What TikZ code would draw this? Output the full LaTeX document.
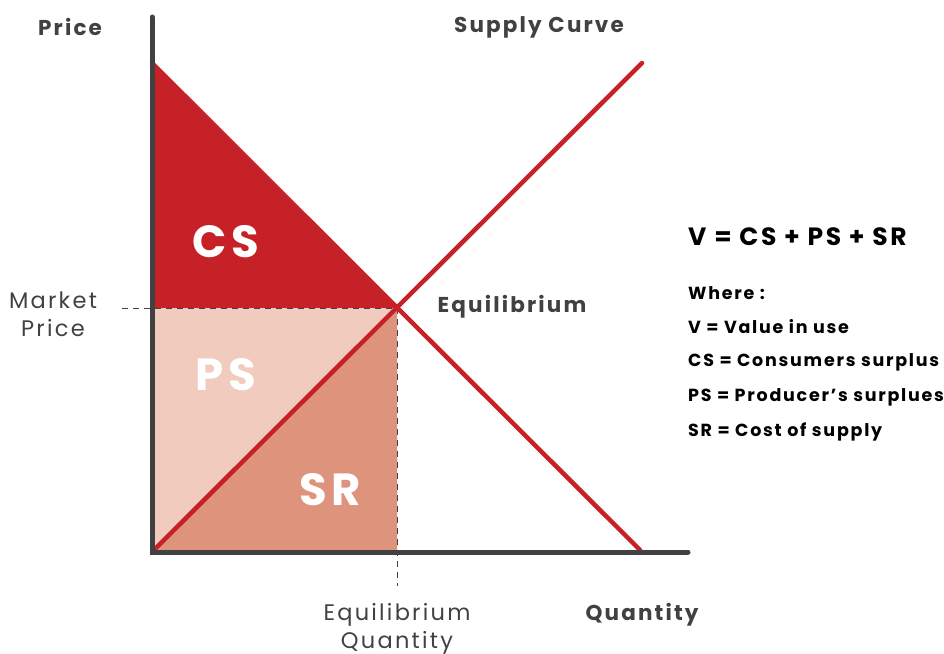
\documentclass[tikz,border=0pt]{standalone}
\usepackage{fontspec}
\setmainfont{Poppins}[LetterSpace=10]
\definecolor{axisgray}{HTML}{414143}
\definecolor{csred}{HTML}{C62127}
\definecolor{pspink}{HTML}{F0CBBE}
\definecolor{srsalmon}{HTML}{DE937D}
\definecolor{txtgray}{HTML}{414143}
\begin{document}
\begin{tikzpicture}[x=1pt,y=-1pt,
  axisline/.style={line width=5pt,draw=axisgray,line cap=round},
  curve/.style={line width=4.5pt,draw=csred,line cap=round},
  guide/.style={line width=1pt,draw=axisgray,dash pattern=on 6pt off 5pt},
  lbl/.style={text=txtgray,font=\bfseries\fontsize{21.5}{24}\selectfont,inner sep=0pt},
  thin/.style={text=txtgray,font=\fontsize{22.5}{28}\selectfont,align=center,inner sep=0pt},
  big/.style={text=white,font=\bfseries\fontsize{45}{48}\selectfont,inner sep=0pt},
  legend/.style={text=black,font=\bfseries\fontsize{17.5}{20}\selectfont,anchor=west,inner sep=0pt}]
\useasboundingbox (0,0) rectangle (944,653);
\coordinate (O) at (152,552);
\coordinate (Ytop) at (152,17);
\coordinate (Xend) at (688,552);
\coordinate (Dtop) at (152,63);
\coordinate (Dend) at (640,550);
\coordinate (Stop) at (642,63);
\coordinate (E) at (397,308);
\coordinate (YE) at (152,308);
\coordinate (XE) at (397,552);
\coordinate (Ltick) at (122,308);
\coordinate (Btick) at (397,586);
% areas
\fill[csred] (Dtop) -- (E) -- (YE) -- cycle;
\fill[pspink] (YE) -- (E) -- (O) -- cycle;
\fill[srsalmon] (O) -- (E) -- (XE) -- cycle;
% guides
\draw[guide] (Ltick) -- (E);
\draw[guide] (E) -- (Btick);
% curves
\draw[curve] (Dtop) -- (Dend);
\draw[curve] (O) -- (Stop);
% axes
\draw[axisline] (Ytop) -- (O) -- (Xend);
% labels
\node[lbl] (price) at (70,27) {Price};
\node[lbl] (supply) at (539,27) {Supply Curve};
\node[lbl] (equil) at (512,307) {Equilibrium};
\node[lbl] (qty) at (642,615) {Quantity};
\node[thin] (mprice) at (53,314) {Market\\Price};
\node[thin] (eqty) at (397,629) {Equilibrium\\Quantity};
\node[big] (cs) at (226,242) {CS};
\node[big] (ps) at (226,375) {PS};
\node[big] (sr) at (330,490) {SR};
\node[legend,font=\bfseries\fontsize{25}{28}\selectfont] (v) at (688,237) {V = CS + PS + SR};
\node[legend] (w) at (688,293) {Where :};
\node[legend] (l1) at (688,327) {V = Value in use};
\node[legend] (l2) at (688,362) {CS = Consumers surplus};
\node[legend] (l3) at (688,397) {PS = Producer’s surplues};
\node[legend] (l4) at (688,432) {SR = Cost of supply};
\end{tikzpicture}
\end{document}
